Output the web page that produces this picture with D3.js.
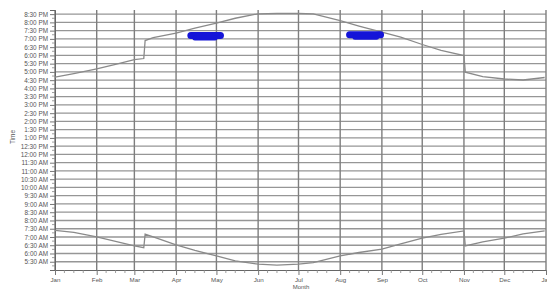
<!DOCTYPE html>
<html>
<head>
<meta charset="utf-8">
<script src="https://cdn.jsdelivr.net/npm/d3@7"></script>
<style>
  body { margin: 0; background: #fff; }
  svg { display: block; font-family: "Liberation Sans", Arial, sans-serif; }
</style>
</head>
<body>
<div class="svg-container"></div>
<script>
// dates (month-day) at which sunrise / sunset were read
const days = ["01-01","01-15","02-01","02-15","03-01","03-08","03-09","03-15","04-01","04-15",
  "05-01","05-15","06-01","06-15","07-01","07-12","08-01","08-15","09-01","09-15",
  "10-01","10-15","11-01","11-02","11-15","12-01","12-15","12-31"];
// hours of day
const sunset = [16.68,16.90,17.19,17.45,17.75,17.81,18.90,19.07,19.35,19.65,
  19.95,20.25,20.52,20.54,20.54,20.52,20.10,19.78,19.41,19.10,
  18.66,18.30,17.99,16.98,16.72,16.57,16.51,16.66];
const sunrise = [7.40,7.28,7.00,6.73,6.46,6.35,7.17,7.00,6.52,6.19,
  5.85,5.55,5.35,5.30,5.35,5.45,5.85,6.06,6.26,6.58,
  6.93,7.16,7.37,6.46,6.70,6.93,7.19,7.37];

// blue marker blobs (start day, end day, hour, thickness)
const markStart = ["04-12","04-15","08-08","08-12"];
const markEnd = ["05-04","04-30","08-31","08-28"];
const markTime = [19.20,19.05,19.25,19.10];
const markSize = [7,5,7,5];

const months = ["Jan","Feb","Mar","Apr","May","Jun","Jul","Aug","Sep","Oct","Nov","Dec","Jan"];
const yTickValues = [5.5,6,6.5,7,7.5,8,8.5,9,9.5,10,10.5,11,11.5,12,12.5,13,13.5,14,14.5,15,15.5,16,16.5,17,17.5,18,18.5,19,19.5,20,20.5];
const yTickLabels = ["5:30 AM","6:00 AM","6:30 AM","7:00 AM","7:30 AM","8:00 AM","8:30 AM","9:00 AM","9:30 AM",
  "10:00 AM","10:30 AM","11:00 AM","11:30 AM","12:00 PM","12:30 PM","1:00 PM","1:30 PM","2:00 PM","2:30 PM",
  "3:00 PM","3:30 PM","4:00 PM","4:30 PM","5:00 PM","5:30 PM","6:00 PM","6:30 PM","7:00 PM","7:30 PM","8:00 PM","8:30 PM"];

const width = 547, height = 289;
const mLeft = 55, mRight = 546, mTop = 10, mBottom = 270;

const toDate = s => new Date(2021, +s.slice(0, 2) - 1, +s.slice(3, 5));

const x = d3.scaleTime().domain([new Date(2021, 0, 1), new Date(2022, 0, 1)]).range([mLeft, mRight]);
const y = d3.scaleLinear().domain([5, 20.75]).range([mBottom, mTop]);

const svg = d3.select(".svg-container").append("svg")
  .attr("width", width).attr("height", height);

svg.append("defs").append("clipPath").attr("id", "plot")
  .append("rect").attr("x", mLeft).attr("y", mTop).attr("width", mRight - mLeft).attr("height", mBottom - mTop);

// horizontal grid
svg.append("g").selectAll("line").data(yTickValues).enter().append("line")
  .attr("x1", mLeft).attr("x2", mRight)
  .attr("y1", d => y(d)).attr("y2", d => y(d))
  .attr("stroke", "#969696").attr("stroke-width", 1.3);

// vertical grid at month starts
const monthDates = d3.range(13).map(i => new Date(2021, i, 1));
svg.append("g").selectAll("line").data(monthDates).enter().append("line")
  .attr("x1", d => x(d)).attr("x2", d => x(d))
  .attr("y1", mTop).attr("y2", mBottom)
  .attr("stroke", "#7e7e7e").attr("stroke-width", 1.4);

// y axis
const yAxis = svg.append("g").attr("transform", "translate(" + mLeft + ",0)")
  .call(d3.axisLeft(y).tickValues(yTickValues).tickSize(5).tickFormat((d, i) => yTickLabels[i]));
yAxis.select(".domain").attr("stroke", "#666");
yAxis.selectAll(".tick line").attr("stroke", "#777");
yAxis.selectAll("text").attr("font-size", 6.4).attr("fill", "#555").attr("x", -7);
// minor 15 min ticks
svg.append("g").selectAll("line").data(d3.range(5.25, 20.75, 0.5)).enter().append("line")
  .attr("x1", mLeft - 3).attr("x2", mLeft)
  .attr("y1", d => y(d)).attr("y2", d => y(d))
  .attr("stroke", "#888").attr("stroke-width", 0.8);

// x axis
const xAxis = svg.append("g").attr("transform", "translate(0," + mBottom + ")")
  .call(d3.axisBottom(x).tickValues(monthDates).tickSize(5).tickFormat((d, i) => months[i]));
xAxis.select(".domain").attr("stroke", "#666");
xAxis.selectAll(".tick line").attr("stroke", "#777");
xAxis.selectAll("text").attr("font-size", 6.2).attr("fill", "#555").attr("y", 7.5);
// minor ticks on 8th, 15th, 22nd
const minorDates = [];
for (let m = 0; m < 12; m++) [8, 15, 22].forEach(dd => minorDates.push(new Date(2021, m, dd)));
svg.append("g").selectAll("line").data(minorDates).enter().append("line")
  .attr("x1", d => x(d)).attr("x2", d => x(d))
  .attr("y1", mBottom).attr("y2", mBottom + 3)
  .attr("stroke", "#888").attr("stroke-width", 0.8);

// axis titles
svg.append("text").attr("transform", "translate(15,137) rotate(-90)")
  .attr("text-anchor", "middle").attr("font-size", 6.4).attr("fill", "#555").text("Time");
svg.append("text").attr("x", 301).attr("y", 289)
  .attr("text-anchor", "middle").attr("font-size", 6).attr("fill", "#555").text("Month");

// sunrise / sunset lines
const line = d3.line().x(d => x(toDate(d[0]))).y(d => y(d[1]));
const plot = svg.append("g").attr("clip-path", "url(#plot)");
[sunset, sunrise].forEach(series => {
  plot.append("path")
    .datum(days.map((d, i) => [d, series[i]]))
    .attr("d", line)
    .attr("fill", "none")
    .attr("stroke", "#8a8a8a")
    .attr("stroke-width", 1.3);
});

// blue marker blobs
plot.selectAll(".mark").data(markStart).enter().append("line").classed("mark", true)
  .attr("x1", (d, i) => x(toDate(markStart[i])))
  .attr("x2", (d, i) => x(toDate(markEnd[i])))
  .attr("y1", (d, i) => y(markTime[i]))
  .attr("y2", (d, i) => y(markTime[i]))
  .attr("stroke", "#1414d8")
  .attr("stroke-width", (d, i) => markSize[i])
  .attr("stroke-linecap", "round");
</script>
</body>
</html>
